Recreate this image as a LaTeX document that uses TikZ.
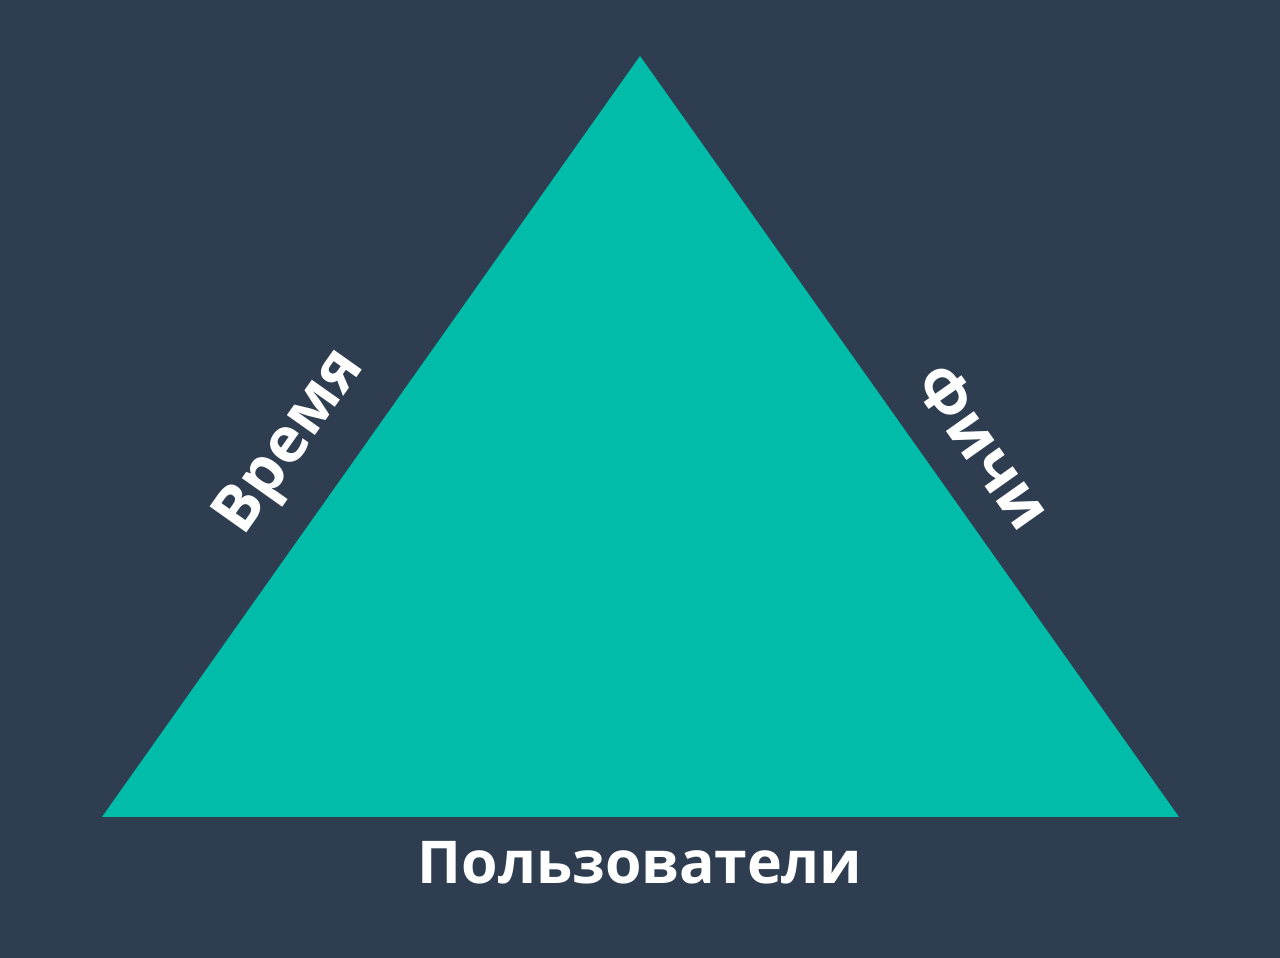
\documentclass[tikz,border=0pt]{standalone}
\usepackage{fontspec}
\setmainfont{Open Sans}
\definecolor{bgc}{HTML}{2E3E50}
\definecolor{teal}{HTML}{00BCA8}
\begin{document}
\begin{tikzpicture}[x=1pt,y=1pt,
  lbl/.style={text=white,font=\fontsize{59}{62}\selectfont\bfseries,inner sep=0pt},
  side/.style={lbl,font=\fontsize{63}{66}\selectfont\bfseries}]
\fill[bgc] (0,0) rectangle (1280,958);
\useasboundingbox (0,0) rectangle (1280,958);
\coordinate (top) at (640,902);
\coordinate (bl) at (102,141);
\coordinate (br) at (1179,141);
\fill[teal] (top) -- (bl) -- (br) -- cycle;
\node[lbl,anchor=base] (users) at (640,74) {Пользователи};
\node[side,rotate=54.7] (time) at (292,515) {Время};
\node[side,rotate=-54.7] (feat) at (984,512) {Фичи};
\end{tikzpicture}
\end{document}
